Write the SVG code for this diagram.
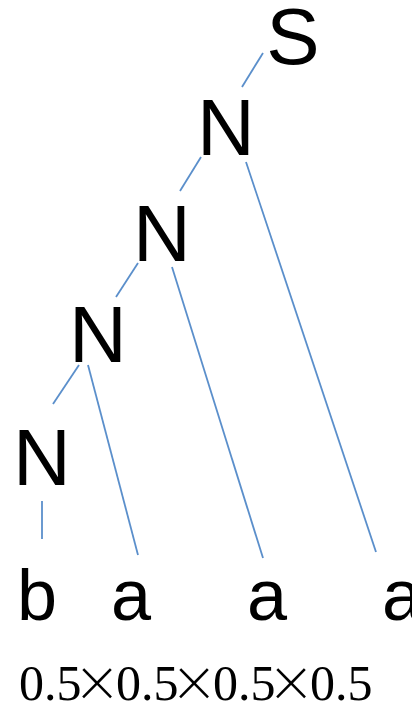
<svg xmlns="http://www.w3.org/2000/svg" width="412" height="705" viewBox="0 0 412 705">
<style>
.n{font-family:"Liberation Sans",Arial,sans-serif;font-size:80px;fill:#000;text-anchor:middle}
.l{font-family:"Liberation Sans",Arial,sans-serif;font-size:72px;fill:#000;text-anchor:middle}
.f{font-family:"Liberation Serif","Times New Roman",serif;font-size:50px;fill:#000}
.x{font-family:Lato,"Open Sans",sans-serif;font-weight:300;font-size:70px;text-anchor:middle}
.e{stroke:#5b8fcb;stroke-width:1.8;fill:none}
</style>
<rect width="412" height="705" fill="#fff"/>
<g id="connectors">
<line class="e" x1="263" y1="53" x2="242" y2="87"/>
<line class="e" x1="201" y1="157" x2="180" y2="191"/>
<line class="e" x1="246" y1="162" x2="376" y2="552"/>
<line class="e" x1="138" y1="263" x2="116" y2="297"/>
<line class="e" x1="172" y1="267" x2="263" y2="558"/>
<line class="e" x1="79" y1="365" x2="53" y2="404"/>
<line class="e" x1="88" y1="365" x2="138" y2="555"/>
<line class="e" x1="42" y1="501" x2="42" y2="539"/>
</g>
<g id="S"><text class="n" x="293" y="64">S</text></g>
<g id="N1"><text class="n" x="226" y="155">N</text></g>
<g id="N2"><text class="n" x="162" y="261">N</text></g>
<g id="N3"><text class="n" x="98" y="362">N</text></g>
<g id="N4"><text class="n" x="42" y="485">N</text></g>
<g id="b"><text class="l" x="37" y="620">b</text></g>
<g id="a1"><text class="l" x="131" y="620">a</text></g>
<g id="a2"><text class="l" x="267" y="620">a</text></g>
<g id="a3"><text class="l" x="402" y="620">a</text></g>
<g id="formula">
<text class="f" x="19" y="700">0.5</text>
<text class="f x" x="97" y="707">×</text>
<text class="f" x="116" y="700">0.5</text>
<text class="f x" x="194" y="707">×</text>
<text class="f" x="213" y="700">0.5</text>
<text class="f x" x="291" y="707">×</text>
<text class="f" x="310" y="700">0.5</text>
</g>
</svg>
